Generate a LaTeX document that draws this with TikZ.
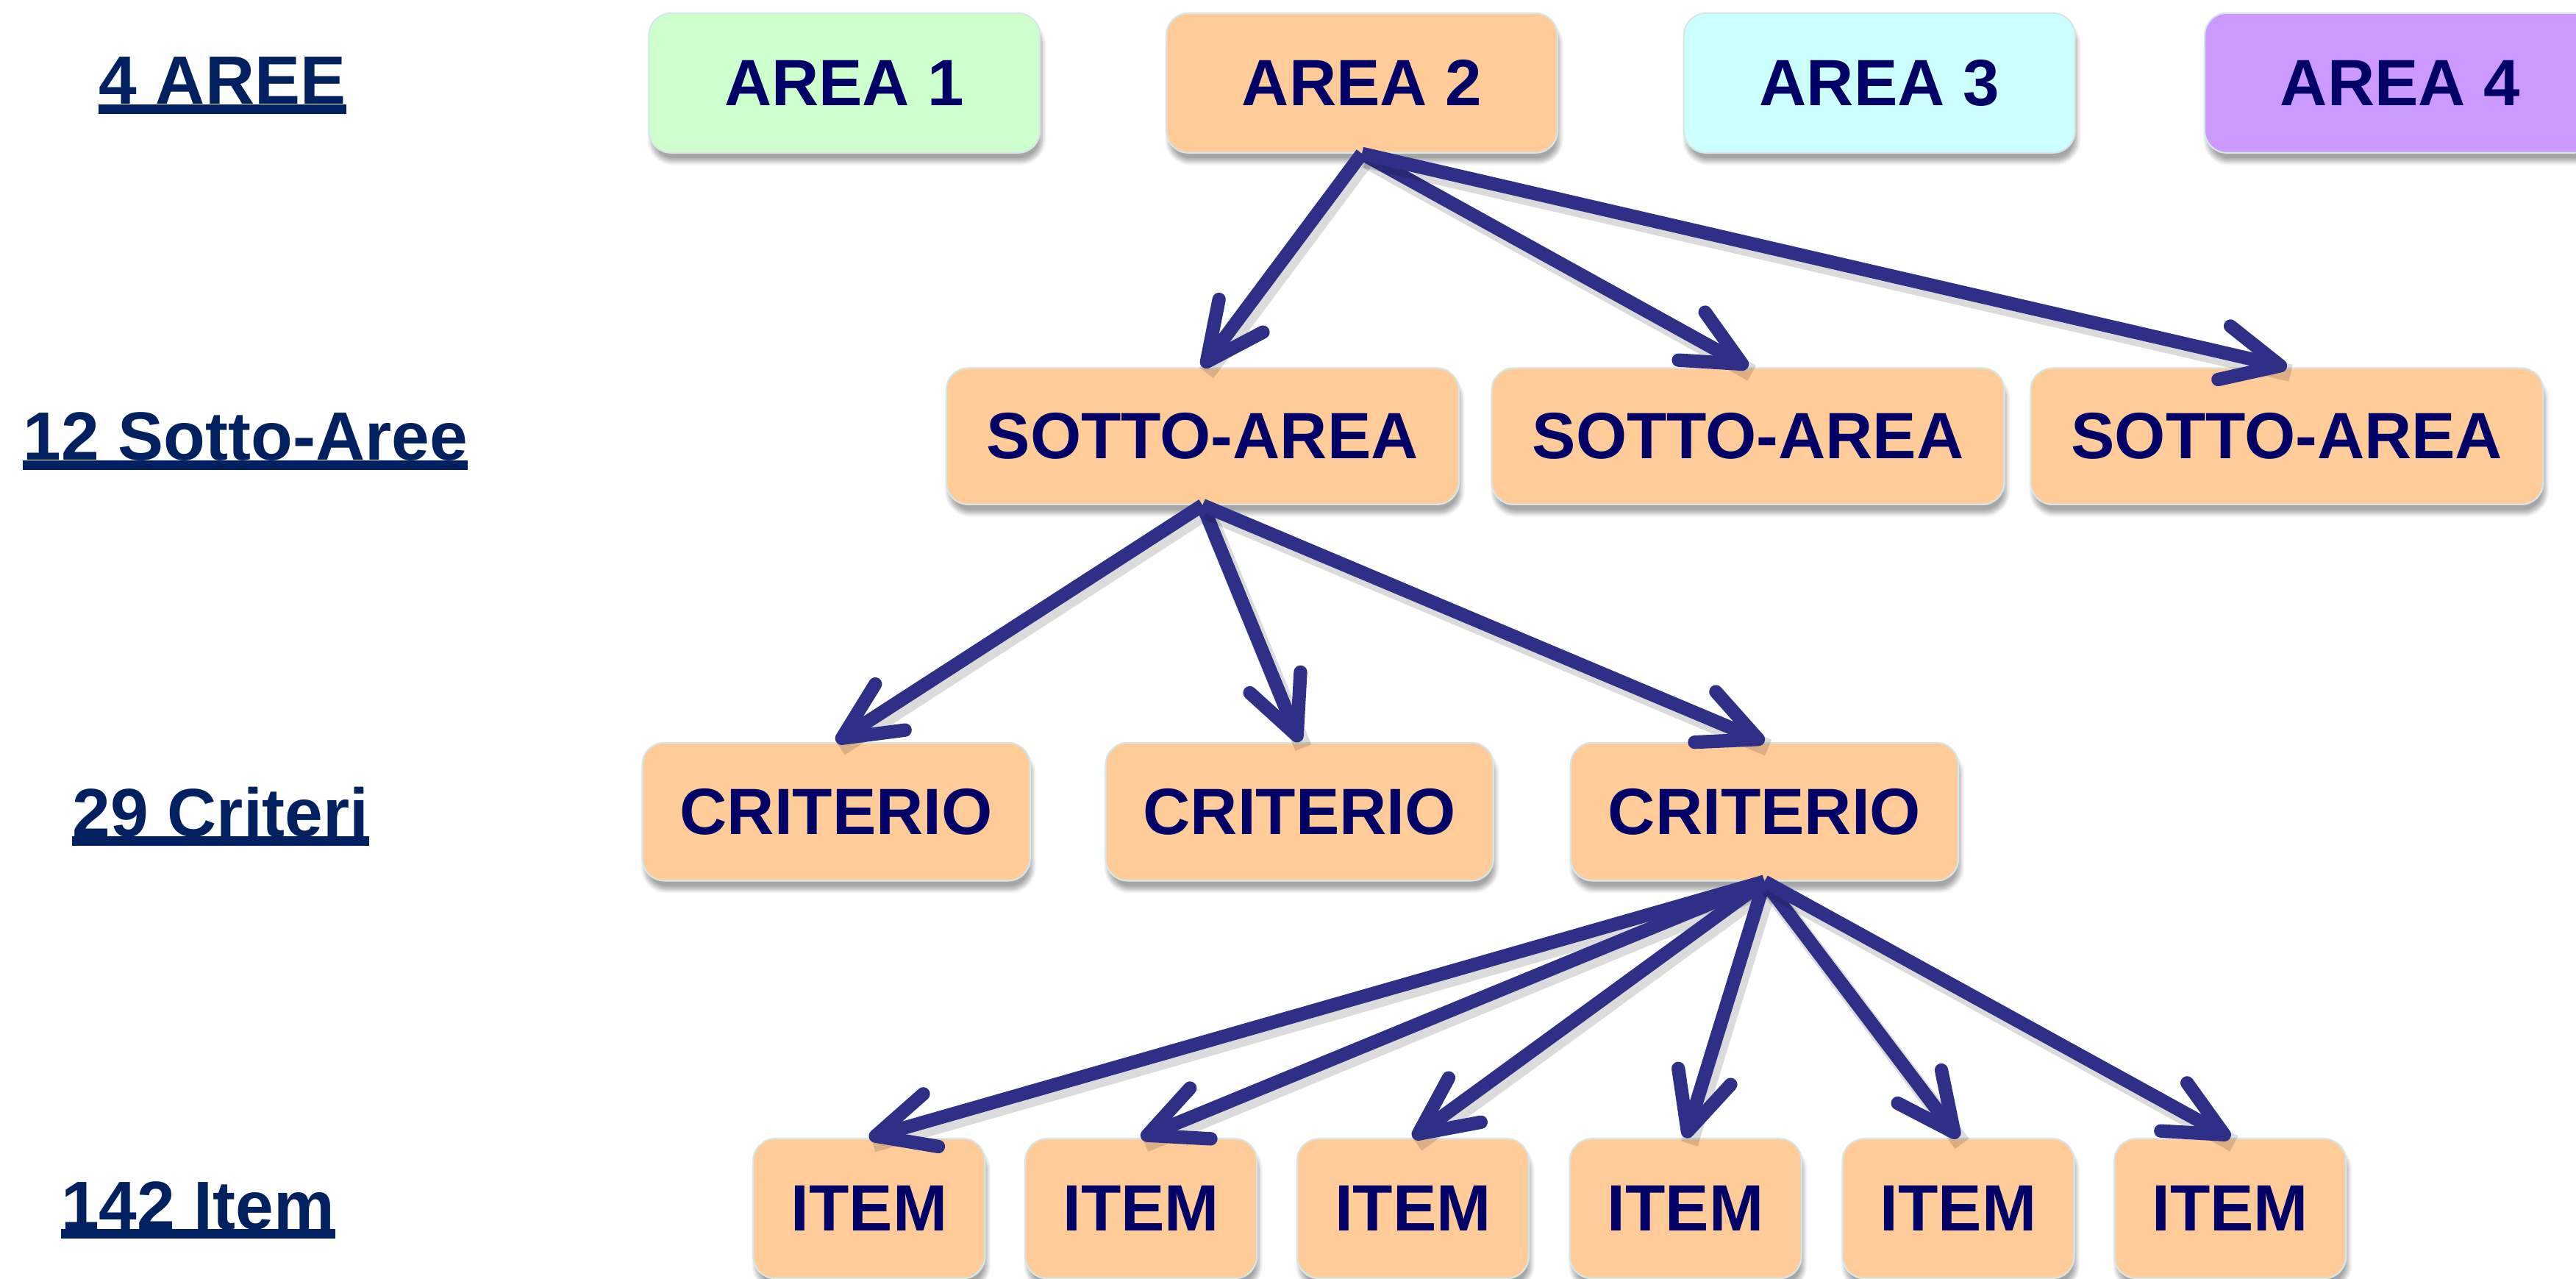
\documentclass[tikz,border=0pt]{standalone}
\usepackage{fontspec}
\setmainfont{Liberation Sans}
\usetikzlibrary{arrows.meta,shadows.blur}
\definecolor{navy}{HTML}{000066}
\definecolor{lblcol}{HTML}{002060}
\definecolor{arrcol}{HTML}{2E3088}
\definecolor{peach}{HTML}{FFCC99}
\definecolor{mint}{HTML}{CCFFCC}
\definecolor{aqua}{HTML}{CCFFFF}
\definecolor{lilac}{HTML}{CC99FF}
\definecolor{edgecol}{HTML}{D4E8EA}
\begin{document}
\begin{tikzpicture}[x=0.03cm,y=-0.03cm,
  box/.style={rounded corners=0.4cm, draw=edgecol, line width=0.8pt, text=navy,
    font=\fontsize{34}{40}\selectfont\bfseries, inner sep=0pt,
    blur shadow={shadow xshift=0.04cm, shadow yshift=-0.16cm, shadow blur steps=10, shadow opacity=35}},
  areabox/.style={box, minimum width=7.14cm, minimum height=2.55cm},
  sabox/.style={box, fill=peach, minimum width=9.36cm, minimum height=2.49cm},
  crbox/.style={box, fill=peach, minimum width=7.08cm, minimum height=2.52cm},
  itbox/.style={box, fill=peach, minimum width=4.23cm, minimum height=2.55cm},
  lbl/.style={inner sep=0pt, anchor=base west, text=lblcol, font=\fontsize{35.5}{42}\selectfont\bfseries},
  uline/.style={draw=lblcol, line width=5pt},
  conn/.style={draw=arrcol, line width=7pt, -{Straight Barb[length=1.05cm, width=1.0cm, round]}},
  connshadow/.style={draw=black, opacity=0.14, line width=9pt},
]
\useasboundingbox (0,0) rectangle (1568,778);
\clip (0,0) rectangle (1568,778);

% left labels
\node[lbl] (l1) at (60,63.5) {4 AREE};
\node[lbl] (l2) at (14,280) {12 Sotto-Aree};
\node[lbl] (l3) at (44,509) {29 Criteri};
\node[lbl] (l4) at (37,748) {142 Item};
\foreach \l in {l1,l2,l3,l4}
  \draw[uline] ([yshift=-2.5pt]\l.base west) -- ([yshift=-2.5pt]\l.base east);

% level 1
\node[areabox, fill=mint]  (a1) at (514,50.5) {AREA 1};
\node[areabox, fill=peach] (a2) at (829,50.5) {AREA 2};
\node[areabox, fill=aqua]  (a3) at (1144,50.5) {AREA 3};
\node[areabox, fill=lilac] (a4) at (1461,50.5) {AREA 4};

% level 2
\node[sabox] (s1) at (732,265.5) {SOTTO-AREA};
\node[sabox] (s2) at (1064,265.5) {SOTTO-AREA};
\node[sabox] (s3) at (1392,265.5) {SOTTO-AREA};

% level 3
\node[crbox] (c1) at (509,494) {CRITERIO};
\node[crbox] (c2) at (791,494) {CRITERIO};
\node[crbox] (c3) at (1074,494) {CRITERIO};

% level 4
\node[itbox] (i1) at (529,735.5) {ITEM};
\node[itbox] (i2) at (694.5,735.5) {ITEM};
\node[itbox] (i3) at (860,735.5) {ITEM};
\node[itbox] (i4) at (1026,735.5) {ITEM};
\node[itbox] (i5) at (1192,735.5) {ITEM};
\node[itbox] (i6) at (1357.5,735.5) {ITEM};

% connectors
\foreach \s/\t in {a2/s1,a2/s2,a2/s3,s1/c1,s1/c2,s1/c3,c3/i1,c3/i2,c3/i3,c3/i4,c3/i5,c3/i6}{
  \draw[connshadow, transform canvas={xshift=2pt,yshift=-3pt}] (\s.south) -- (\t.north);
  \draw[conn] (\s.south) -- (\t.north);
}
\end{tikzpicture}
\end{document}
